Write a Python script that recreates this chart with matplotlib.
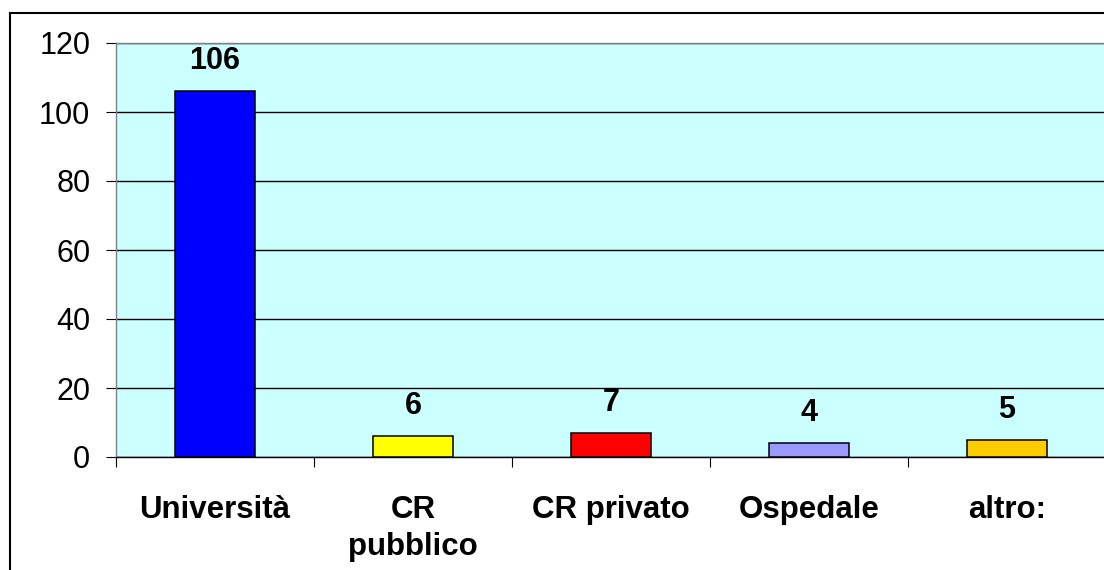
import matplotlib
matplotlib.use("Agg")
import matplotlib.pyplot as plt
from matplotlib.patches import Rectangle

categories = ["Università", "CR\npubblico", "CR privato", "Ospedale", "altro:"]
values = [106, 6, 7, 4, 5]
colors = ["#0000FF", "#FFFF00", "#FF0000", "#9999FF", "#FFCC00"]
yticks = [0, 20, 40, 60, 80, 100, 120]

plt.rcParams['font.family'] = ['Liberation Sans', 'DejaVu Sans']

W, H = 1104, 570
fig = plt.figure(figsize=(W / 100, H / 100), dpi=100)
ax = fig.add_axes([116 / W, (H - 457) / H, 990 / W, 414 / H])
ax.set_facecolor("#CCFFFF")

x = list(range(len(categories)))
bars = ax.bar(x, values, width=0.405, color=colors, edgecolor="black", linewidth=1.1, zorder=3)

for xi, v in zip(x, values):
    ax.annotate(str(v), (xi, v), xytext=(0, 15.8), textcoords="offset points",
                ha="center", va="baseline", fontsize=22, fontweight="bold", zorder=4)

ax.set_xlim(-0.5, len(categories) - 0.5)
ax.set_ylim(0, 120)
ax.set_yticks(yticks)
ax.set_yticklabels([str(t) for t in yticks], fontsize=22)
ax.yaxis.grid(True, color="black", linewidth=1.0, zorder=1)
ax.set_axisbelow(True)

ax.set_xticks([i - 0.5 for i in range(len(categories) + 1)])
ax.set_xticklabels([])
ax.set_xticks(x, minor=True)
ax.set_xticklabels(categories, minor=True, fontsize=22.5, fontweight="bold", va="top", linespacing=1.3)
ax.tick_params(axis="x", which="major", direction="out", length=7.5, width=0.8, color="black")
ax.tick_params(axis="x", which="minor", length=0, pad=27.5)
ax.tick_params(axis="y", direction="out", length=7.5, width=0.8, pad=11, color="black")

for s in ["left", "top"]:
    ax.spines[s].set_color("#808080")
    ax.spines[s].set_linewidth(1.0)
ax.spines["right"].set_visible(False)
ax.spines["bottom"].set_color("black")
ax.spines["bottom"].set_linewidth(1.0)

border = Rectangle((10 / W, -0.05), 1.1, (H - 13) / H + 0.05, transform=fig.transFigure,
                   fill=False, edgecolor="black", linewidth=1.5, clip_on=False)
fig.patches.append(border)

fig.savefig("out.png", dpi=100)
